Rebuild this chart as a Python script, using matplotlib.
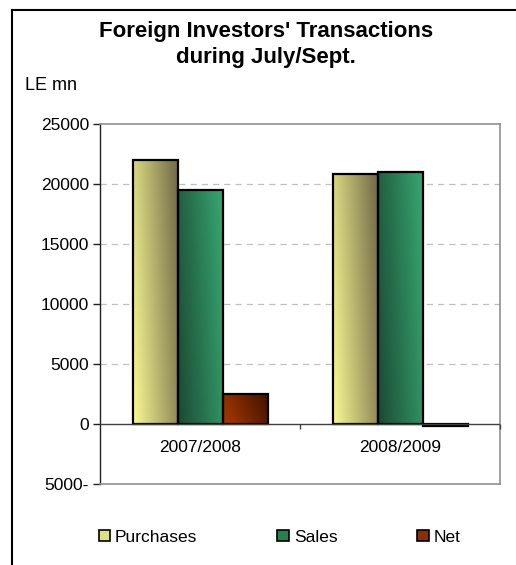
import numpy as np
import matplotlib
matplotlib.use("Agg")
import matplotlib.pyplot as plt
from matplotlib.colors import LinearSegmentedColormap
from matplotlib.lines import Line2D
from matplotlib.patches import Rectangle

plt.rcParams['font.family'] = ['Liberation Sans', 'DejaVu Sans']

# data (LE mn)
categories = ['2007/2008', '2008/2009']
series = ['Purchases', 'Sales', 'Net']
purchases = [22000, 20800]
sales = [19500, 21000]
net = [2500, -200]
yticks = [-5000, 0, 5000, 10000, 15000, 20000, 25000]

# gradient colours: (bottom-left, top-right)
grads = {
    'Purchases': ('#fafa94', '#77704a'),
    'Sales': ('#1b4a33', '#35a26d'),
    'Net': ('#a83a00', '#471300'),
}
legend_cols = {'Purchases': '#dede88', 'Sales': '#26804f', 'Net': '#8a2e04'}

W, H = 516, 565
fig = plt.figure(figsize=(W / 100, H / 100), dpi=100)
ax = fig.add_axes([100 / W, (H - 484) / H, 400 / W, 360 / H])

ax.set_xlim(-0.5, 1.5)
ax.set_ylim(-5000, 25000)

# gradient image
gx, gy = np.meshgrid(np.linspace(0, 1, 60), np.linspace(0, 1, 120))
grad_img = np.clip(0.8 * gx + 0.25 * gy, 0, 1)

width = 0.225
values = [purchases, sales, net]
for k, (name, vals) in enumerate(zip(series, values)):
    cmap = LinearSegmentedColormap.from_list(name, grads[name])
    for i, v in enumerate(vals):
        x0 = i + (k - 1) * width - width / 2
        y0, y1 = min(0, v), max(0, v)
        im = ax.imshow(grad_img, cmap=cmap, origin='lower', aspect='auto',
                       extent=[x0, x0 + width, y0, y1], zorder=3,
                       interpolation='bilinear')
        rect = Rectangle((x0, y0), width, y1 - y0, facecolor='none',
                         edgecolor='black', linewidth=1.6, zorder=4)
        ax.add_patch(rect)
        im.set_clip_path(rect)

# grid
for t in yticks[2:-1]:
    ax.axhline(t, color='#c0c0c0', linestyle=(0, (5, 4)), linewidth=0.9, zorder=1)
ax.axhline(0, color='#404040', linewidth=1.0, zorder=5)

# category ticks hanging from zero line
ax.vlines([0.5, 1.5], -420, 0, color='#404040', linewidth=1.0, zorder=5,
          clip_on=False)

for i, c in enumerate(categories):
    ax.annotate(c, xy=(i, 0), xytext=(0, -23), textcoords='offset pixels',
                ha='center', va='center', fontsize=12.5, color='black')

ax.set_xticks([])
ax.set_yticks(yticks)
ax.set_yticklabels([f'{abs(t)}-' if t < 0 else f'{t}' for t in yticks],
                   fontsize=12.5)
ax.tick_params(axis='y', direction='out', length=5, width=1, color='#202020',
               pad=3)

for s in ['top', 'right', 'bottom']:
    ax.spines[s].set_color('#909090')
    ax.spines[s].set_linewidth(1.2)
ax.spines['left'].set_color('#202020')
ax.spines['left'].set_linewidth(1.0)

# titles
fig.text(266 / W, 1 - 31 / H, "Foreign Investors' Transactions", ha='center',
         va='center', fontsize=16, fontweight='bold')
fig.text(266 / W, 1 - 58 / H, "during July/Sept.", ha='center',
         va='center', fontsize=16, fontweight='bold')
fig.text(25 / W, 1 - 85 / H, "LE mn", ha='left', va='center', fontsize=13)

# outer frame (top and left only visible)
fig.add_artist(Line2D([12 / W, 1], [1 - 10 / H, 1 - 10 / H], color='black',
                      linewidth=1.5))
fig.add_artist(Line2D([12 / W, 12 / W], [0, 1 - 10 / H], color='black',
                      linewidth=1.5))

# legend
handles = [Rectangle((0, 0), 1, 1, facecolor=legend_cols[n], edgecolor='black',
                     linewidth=1.2) for n in series]
fig.legend(handles, series, loc='center left',
           bbox_to_anchor=(83 / W, 1 - 537 / H),
           ncol=3, frameon=False, fontsize=12.5, handlelength=0.65,
           handleheight=0.65, handletextpad=0.3, columnspacing=4.6)

fig.savefig('out.png', dpi=100)
